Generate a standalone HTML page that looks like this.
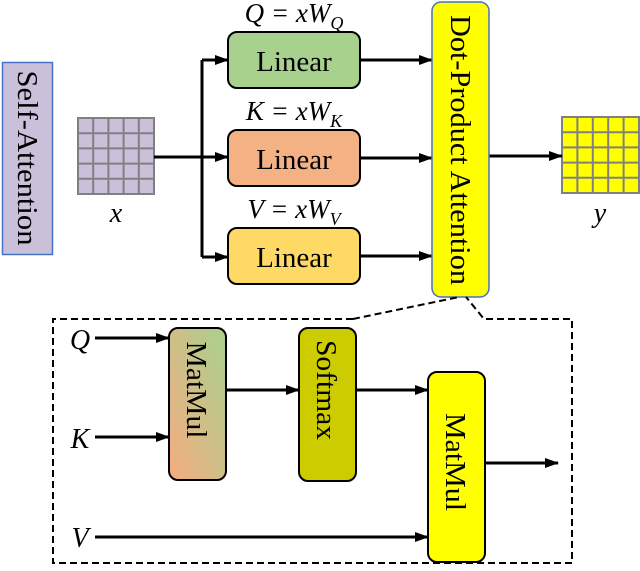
<!DOCTYPE html>
<html><head><meta charset="utf-8"><style>
body{margin:0;background:#fff}
svg text{font-family:"Liberation Serif",serif;fill:#000}
</style></head><body>
<svg width="640" height="566" viewBox="0 0 640 566" xmlns="http://www.w3.org/2000/svg">
<defs>
<marker id="a" markerWidth="14" markerHeight="10" refX="13" refY="5" orient="auto" markerUnits="userSpaceOnUse"><path d="M0,0 L14,5 L0,10 z" fill="#000"/></marker>
<linearGradient id="g" x1="0" y1="1" x2="1" y2="0"><stop offset="0" stop-color="#f4ac80"/><stop offset="1" stop-color="#a9d18e"/></linearGradient>
</defs>
<rect x="2.5" y="62.5" width="50" height="192" fill="#cbc0da" stroke="#4472c4" stroke-width="1.5"/>
<text transform="translate(18,158) rotate(90)" font-size="29" text-anchor="middle" textLength="175" lengthAdjust="spacingAndGlyphs">Self-Attention</text>
<rect x="78" y="118" width="76" height="76" fill="#cbc0da"/>
<g stroke="#808080" stroke-width="2" fill="none">
<rect x="78" y="118" width="76" height="76"/>
<path d="M93.2 118V194M108.4 118V194M123.6 118V194M138.8 118V194M78 133.2H154M78 148.4H154M78 163.6H154M78 178.8H154"/>
</g>
<text x="116" y="222" font-size="28" font-style="italic" text-anchor="middle">x</text>
<rect x="562" y="117" width="77" height="76" fill="#ffff00"/>
<g stroke="#808080" stroke-width="2" fill="none">
<rect x="562" y="117" width="77" height="76"/>
<path d="M577.4 117V193M592.8 117V193M608.2 117V193M623.6 117V193M562 132.2H639M562 147.4H639M562 162.6H639M562 177.8H639"/>
</g>
<text x="600" y="222" font-size="28" font-style="italic" text-anchor="middle">y</text>
<g stroke="#000" stroke-width="3" fill="none">
<path d="M154 157H228" marker-end="url(#a)"/>
<path d="M202 60V257"/>
<path d="M202 60H228" marker-end="url(#a)"/>
<path d="M202 257H228" marker-end="url(#a)"/>
<path d="M360 60H432" marker-end="url(#a)"/>
<path d="M360 158H432" marker-end="url(#a)"/>
<path d="M360 256H432" marker-end="url(#a)"/>
<path d="M489 156H562" marker-end="url(#a)"/>
</g>
<rect x="228" y="32" width="132" height="56" rx="9" fill="#a9d18e" stroke="#000" stroke-width="2"/>
<rect x="228" y="130" width="132" height="56" rx="9" fill="#f4b183" stroke="#000" stroke-width="2"/>
<rect x="228" y="228" width="132" height="56" rx="9" fill="#ffd966" stroke="#000" stroke-width="2"/>
<text x="294" y="71" font-size="29" text-anchor="middle">Linear</text>
<text x="294" y="169" font-size="29" text-anchor="middle">Linear</text>
<text x="294" y="267" font-size="29" text-anchor="middle">Linear</text>
<g font-size="27" font-style="italic" text-anchor="middle">
<text x="294" y="22">Q = xW<tspan font-size="18" dy="7">Q</tspan></text>
<text x="294" y="120">K = xW<tspan font-size="18" dy="7">K</tspan></text>
<text x="294" y="218">V = xW<tspan font-size="18" dy="7">V</tspan></text>
</g>
<rect x="432" y="2" width="57" height="295" rx="9" fill="#ffff00" stroke="#4472c4" stroke-width="1.5"/>
<text transform="translate(451,150) rotate(90)" font-size="28" text-anchor="middle" textLength="270" lengthAdjust="spacingAndGlyphs">Dot-Product Attention</text>
<g stroke="#000" stroke-width="2" fill="none" stroke-dasharray="7,4">
<path d="M353 319H53V563H572V319H484L466 297"/>
<path d="M353 319L459 297"/>
</g>
<g stroke="#000" stroke-width="3" fill="none">
<path d="M95 338H169" marker-end="url(#a)"/>
<path d="M95 437H169" marker-end="url(#a)"/>
<path d="M95 537H428" marker-end="url(#a)"/>
<path d="M226 390H299" marker-end="url(#a)"/>
<path d="M356 390H428" marker-end="url(#a)"/>
<path d="M486 463H558" marker-end="url(#a)"/>
</g>
<g font-size="28" font-style="italic" text-anchor="middle">
<text x="80" y="349">Q</text><text x="80" y="448">K</text><text x="80" y="547">V</text>
</g>
<rect x="169" y="328" width="57" height="152" rx="9" fill="url(#g)" stroke="#000" stroke-width="2"/>
<text transform="translate(187,390) rotate(90)" font-size="28" text-anchor="middle" textLength="97" lengthAdjust="spacingAndGlyphs">MatMul</text>
<rect x="299" y="328" width="57" height="153" rx="9" fill="#cccc00" stroke="#000" stroke-width="2"/>
<text transform="translate(317,390) rotate(90)" font-size="28" text-anchor="middle" textLength="100" lengthAdjust="spacingAndGlyphs">Softmax</text>
<rect x="428" y="372" width="57" height="190" rx="9" fill="#ffff00" stroke="#000" stroke-width="2"/>
<text transform="translate(446,462) rotate(90)" font-size="28" text-anchor="middle" textLength="98" lengthAdjust="spacingAndGlyphs">MatMul</text>
</svg>
</body></html>
